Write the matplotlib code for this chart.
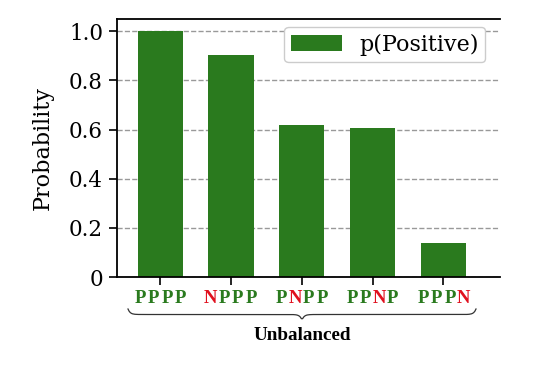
import numpy as np
import matplotlib.pyplot as plt
from matplotlib.transforms import offset_copy

plt.rcParams['font.family'] = 'DejaVu Serif'

# data
patterns = ['PPPP', 'NPPP', 'PNPP', 'PPNP', 'PPPN']
probs = [1.0, 0.905, 0.62, 0.605, 0.14]
group_label = 'Unbalanced'

green = '#2a7a1e'
red = '#e0101e'

fig = plt.figure(figsize=(5.49, 3.73), dpi=100)
ax = fig.add_axes([117 / 549, 1 - 277 / 373, (500 - 117) / 549, (277 - 19) / 373])

x = np.arange(len(patterns))
ax.bar(x, probs, width=0.64, color=green, label='p(Positive)', zorder=2)

ax.set_xlim(-0.61, 4.8)
ax.set_ylim(0, 1.05)
ax.set_yticks([0, 0.2, 0.4, 0.6, 0.8, 1.0])
ax.set_yticklabels(['0', '0.2', '0.4', '0.6', '0.8', '1.0'], fontsize=15.5)
ax.set_xticks(x)
ax.set_xticklabels([])
ax.tick_params(axis='both', direction='out', length=6, width=1.2, pad=4)
ax.yaxis.grid(True, linestyle='--', color='#999999', linewidth=1, zorder=0)
ax.set_axisbelow(True)
ax.spines['right'].set_visible(False)
for s in ['left', 'top', 'bottom']:
    ax.spines[s].set_linewidth(1.3)
ax.set_ylabel('Probability', fontsize=16)
ax.yaxis.set_label_coords(-0.165, 0.5)

leg = ax.legend(loc='upper right', fontsize=16, fancybox=True, framealpha=1,
                edgecolor='#cccccc', borderpad=0.3, handlelength=2.3,
                handletextpad=0.75, borderaxespad=0,
                bbox_to_anchor=(0.961, 0.969))

# coloured pattern labels under each bar
step = 9.7
for i, pat in enumerate(patterns):
    for j, ch in enumerate(pat):
        tr = offset_copy(ax.get_xaxis_transform(), fig=fig,
                         x=(j - 1.5) * step, y=0, units='points')
        ax.text(i, -0.083, ch, transform=tr, ha='center', va='center',
                fontsize=13.5, fontweight='bold', family='Liberation Serif',
                color=red if ch == 'N' else green, clip_on=False)

# curly brace under the labels
def brace(x0, x1, y, h):
    t = np.linspace(0, 1, 300)
    xs = x0 + (x1 - x0) * t
    half = np.where(t < 0.5, t * 2, (1 - t) * 2)
    ys = y - h * (0.5 * (1 - np.exp(-half * 80)) + 0.5 * np.exp(-(1 - half) * 80))
    return xs, ys

bx, by = brace(128 / 549, 476 / 549, 1 - 309 / 373, 11 / 373)
fig.add_artist(plt.Line2D(bx, by, color='#333333', linewidth=0.9))
fig.text(302 / 549, 1 - 335 / 373, group_label, ha='center', va='center',
         fontsize=13.8, fontweight='bold', family='Liberation Serif')

fig.savefig('out.png', dpi=100)
